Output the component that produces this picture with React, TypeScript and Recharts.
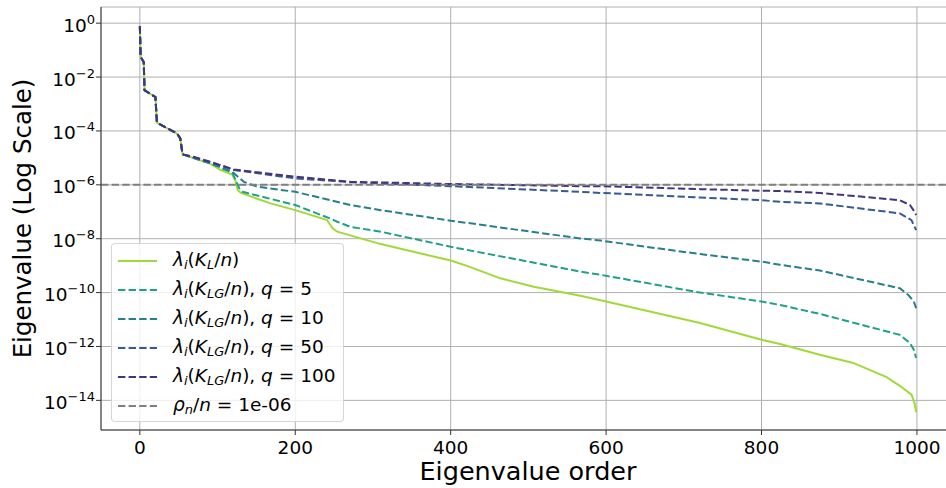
import { CartesianGrid, Label, Legend, Line, LineChart, ReferenceLine, XAxis, YAxis } from 'recharts'

// shared top of the spectrum (all curves coincide here), exponents of 10
const headIdx = [0, 1, 5, 6, 20, 22, 48, 52, 55]
const headExp = [-0.11, -1.26, -1.44, -2.49, -2.74, -3.69, -4.1, -4.28, -4.87]

const klIdx = [70, 91, 104, 119, 123, 126, 130, 168, 200, 241, 248, 254, 310, 400, 421, 464, 507, 567, 600, 721, 800, 824, 875, 918, 961, 978, 993, 997, 999]
const klExp = [-5.02, -5.22, -5.45, -5.62, -5.85, -6.2, -6.3, -6.69, -6.94, -7.31, -7.61, -7.74, -8.2, -8.81, -9.01, -9.47, -9.78, -10.12, -10.33, -11.13, -11.75, -11.91, -12.31, -12.61, -13.14, -13.46, -13.79, -14.1, -14.44]

const q5Idx = [70, 91, 119, 128, 132, 200, 245, 254, 271, 310, 400, 567, 593, 721, 800, 824, 875, 978, 991, 996, 999]
const q5Exp = [-5.02, -5.2, -5.55, -6.13, -6.26, -6.75, -7.25, -7.37, -7.56, -7.74, -8.3, -9.22, -9.34, -10.0, -10.33, -10.46, -10.79, -11.57, -11.87, -12.12, -12.43]

const q10Idx = [70, 91, 119, 134, 151, 200, 271, 310, 400, 567, 593, 721, 800, 824, 875, 978, 989, 996, 999]
const q10Exp = [-5.0, -5.2, -5.52, -5.89, -6.07, -6.26, -6.75, -6.94, -7.33, -7.99, -8.07, -8.57, -8.85, -8.97, -9.18, -9.84, -10.09, -10.33, -10.58]

const q50Idx = [70, 91, 121, 200, 271, 310, 400, 567, 593, 721, 800, 824, 875, 978, 993, 999]
const q50Exp = [-4.98, -5.17, -5.45, -5.76, -5.9, -5.95, -6.05, -6.26, -6.3, -6.47, -6.57, -6.63, -6.69, -7.06, -7.31, -7.68]

const q100Idx = [70, 91, 121, 200, 271, 310, 400, 567, 593, 721, 800, 824, 875, 978, 991, 997, 999]
const q100Exp = [-4.97, -5.15, -5.43, -5.7, -5.89, -5.91, -5.97, -6.05, -6.05, -6.16, -6.22, -6.23, -6.3, -6.57, -6.75, -7.0, -7.12]

const rhoOverN = 1e-6
const xTicks = [0, 200, 400, 600, 800, 1000]
const yTicks = [1, 1e-2, 1e-4, 1e-6, 1e-8, 1e-10, 1e-12, 1e-14]

const FONT = '"DejaVu Sans", sans-serif'
const DASH = '7.4 3.2'

function toRows(idx: number[], exp: number[]) {
  const xs = [...headIdx, ...idx]
  const es = [...headExp, ...exp]
  return xs.map((x, i) => ({ x, value: 10 ** es[i] }))
}

const series = [
  { key: 'kl', color: '#a0da39', dashed: false, data: toRows(klIdx, klExp), sub: 'L', q: undefined },
  { key: 'q5', color: '#1fa187', dashed: true, data: toRows(q5Idx, q5Exp), sub: 'LG', q: 5 },
  { key: 'q10', color: '#277f8e', dashed: true, data: toRows(q10Idx, q10Exp), sub: 'LG', q: 10 },
  { key: 'q50', color: '#365c8d', dashed: true, data: toRows(q50Idx, q50Exp), sub: 'LG', q: 50 },
  { key: 'q100', color: '#46337e', dashed: true, data: toRows(q100Idx, q100Exp), sub: 'LG', q: 100 },
]

const it = { fontStyle: 'italic' as const }
const subStyle = { fontSize: '0.7em', fontStyle: 'italic' as const, position: 'relative' as const, top: '0.3em' }

function LambdaLabel({ sub, q }: { sub: string; q?: number }) {
  return (
    <span>
      <span style={it}>λ</span>
      <span style={subStyle}>i</span>(<span style={it}>K</span>
      <span style={subStyle}>{sub}</span>/<span style={it}>n</span>)
      {q !== undefined && (
        <>
          , <span style={it}>q</span> = {q}
        </>
      )}
    </span>
  )
}

function Handle({ color, dashed }: { color: string; dashed: boolean }) {
  return (
    <svg width={40} height={10} style={{ display: 'block' }}>
      <line x1={0} y1={5} x2={39} y2={5} stroke={color} strokeWidth={2} strokeDasharray={dashed ? DASH : undefined} />
    </svg>
  )
}

function LegendBox() {
  const rows = [
    ...series.map((s) => ({ key: s.key, color: s.color, dashed: s.dashed, label: <LambdaLabel sub={s.sub} q={s.q} /> })),
    {
      key: 'rho',
      color: '#808080',
      dashed: true,
      label: (
        <span>
          <span style={it}>ρ</span>
          <span style={subStyle}>n</span>/<span style={it}>n</span> = 1e-06
        </span>
      ),
    },
  ]
  return (
    <div
      style={{
        width: 233,
        height: 179,
        boxSizing: 'border-box',
        border: '1px solid rgba(204,204,204,0.8)',
        borderRadius: 4,
        background: 'rgba(255,255,255,0.8)',
        paddingTop: 2,
        paddingLeft: 6,
        fontFamily: FONT,
        fontSize: 18.5,
        color: '#000',
      }}
    >
      {rows.map((r) => (
        <div key={r.key} style={{ display: 'flex', alignItems: 'center', height: 29, whiteSpace: 'nowrap' }}>
          <Handle color={r.color} dashed={r.dashed} />
          <div style={{ marginLeft: 15, lineHeight: '20px' }}>{r.label}</div>
        </div>
      ))}
    </div>
  )
}

function XTick({ x, y, payload }: any) {
  return (
    <text x={x} y={y + 17} textAnchor="middle" fontSize={18.5} fontFamily={FONT} fill="#000">
      {payload.value}
    </text>
  )
}

function YTick({ x, y, payload }: any) {
  const e = Math.round(Math.log10(payload.value))
  return (
    <text x={x} y={y + 8.5} textAnchor="end" fontSize={18.5} fontFamily={FONT} fill="#000">
      <tspan>10</tspan>
      <tspan dy={-8} fontSize={13}>
        {e === 0 ? '0' : '\u2212' + Math.abs(e)}
      </tspan>
    </text>
  )
}

export default function App() {
  return (
    <div style={{ position: 'absolute', left: 0, top: 0, width: 946, height: 488, overflow: 'hidden', background: '#fff' }}>
      <LineChart width={956} height={488} margin={{ top: 7, right: 1, bottom: 0, left: 0 }}>
        <CartesianGrid stroke="#b0b0b0" strokeWidth={1} />
        <XAxis
          dataKey="x"
          type="number"
          domain={[-50, 1049]}
          allowDataOverflow
          ticks={xTicks}
          height={58}
          tickSize={5}
          tickMargin={2}
          tick={<XTick />}
          tickLine={{ stroke: '#333' }}
          axisLine={{ stroke: '#333' }}
        >
          <Label
            content={({ viewBox }: any) => (
              <text x={viewBox.x + viewBox.width / 2} y={viewBox.y + 50} textAnchor="middle" fontSize={25.5} fontFamily={FONT} fill="#000">
                Eigenvalue order
              </text>
            )}
          />
        </XAxis>
        <XAxis xAxisId="top" orientation="top" type="number" domain={[-50, 1049]} height={0} tick={false} tickLine={false} axisLine={{ stroke: '#333' }} />
        <YAxis
          type="number"
          scale="log"
          domain={[10 ** -15.1, 10 ** 0.6]}
          allowDataOverflow
          ticks={yTicks}
          width={101}
          tickSize={5}
          tickMargin={1}
          tick={<YTick />}
          tickLine={{ stroke: '#333' }}
          axisLine={{ stroke: '#333' }}
        >
          <Label
            content={({ viewBox }: any) => {
              const cx = viewBox.x + 31
              const cy = viewBox.y + viewBox.height / 2
              return (
                <text x={cx} y={cy} transform={`rotate(-90, ${cx}, ${cy})`} textAnchor="middle" fontSize={24.5} fontFamily={FONT} fill="#000">
                  Eigenvalue (Log Scale)
                </text>
              )
            }}
          />
        </YAxis>
        <YAxis yAxisId="right" orientation="right" type="number" domain={[0, 1]} width={0} tick={false} tickLine={false} axisLine={{ stroke: '#333' }} />
        {series.map((s) => (
          <Line
            key={s.key}
            data={s.data}
            dataKey="value"
            type="linear"
            stroke={s.color}
            strokeWidth={2}
            strokeDasharray={s.dashed ? DASH : undefined}
            dot={false}
            activeDot={false}
            isAnimationActive={false}
          />
        ))}
        <ReferenceLine y={rhoOverN} stroke="#808080" strokeWidth={2} strokeDasharray={DASH} />
        <Legend
          layout="vertical"
          align="center"
          verticalAlign="middle"
          wrapperStyle={{ left: 111, top: 243, width: 233, height: 179 }}
          content={() => <LegendBox />}
        />
      </LineChart>
    </div>
  )
}
